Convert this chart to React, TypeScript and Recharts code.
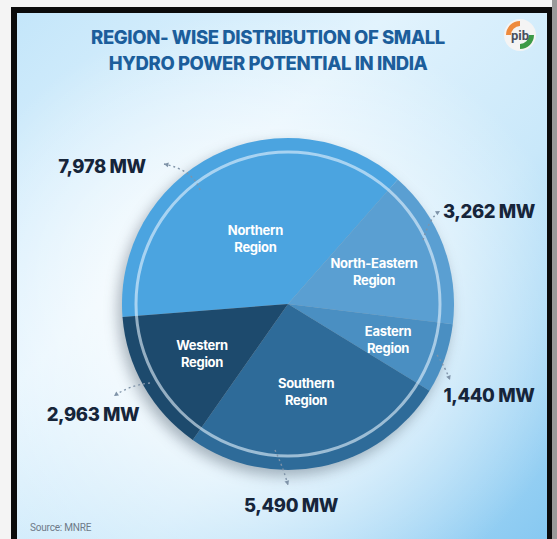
import React from 'react';
import { PieChart, Pie, Cell } from 'recharts';

const categories = ['Northern Region', 'North-Eastern Region', 'Eastern Region', 'Southern Region', 'Western Region'];
const values = [7978, 3262, 1440, 5490, 2963];
const valueLabels = ['7,978 MW', '3,262 MW', '1,440 MW', '5,490 MW', '2,963 MW'];
const colors = ['#4ba4e0', '#5a9fd2', '#4a8fc2', '#2e6b99', '#1d4a6d'];

const data = categories.map((name, i) => ({ name, value: values[i], label: valueLabels[i] }));
const ring = [{ name: 'ring', value: 1 }];

// style constants (label placement relative to pie centre)
const CX = 283;
const CY = 299;
const R = 166;
const NAME_R = [73, 92, 106, 89, 99];
const VAL_POS: [number, number][] = [[-186, -138], [201, -93], [201, 91], [3, 201], [-195, 110]];
const CONNECTORS: [number, number][][] = [
  [[-88, -114], [-95, -134], [-124, -140]],
  [[135, -64], [142, -87], [152, -93]],
  [[149, 51], [157, 63], [162, 76]],
  [[-13, 146], [-5, 163], [0, 181]],
  [[-138, 79], [-158, 81], [-174, 92]],
];

const RAD = Math.PI / 180;

function NameLabel(props: any) {
  const { cx, cy, midAngle, index } = props;
  const r = NAME_R[index];
  const x = cx + r * Math.cos(-midAngle * RAD);
  const y = cy + r * Math.sin(-midAngle * RAD);
  const name: string = categories[index];
  const cut = name.lastIndexOf(' ');
  const l1 = name.slice(0, cut);
  const l2 = name.slice(cut + 1);
  return (
    <text x={x} y={y} textAnchor="middle" fill="#ffffff" fontSize={13} fontWeight={700}
      fontFamily="Inter, 'Open Sans', sans-serif" letterSpacing={-0.3}>
      <tspan x={x} dy="-0.25em">{l1}</tspan>
      <tspan x={x} dy="1.3em">{l2}</tspan>
    </text>
  );
}

function ValueLabel(props: any) {
  const { cx, cy, index } = props;
  const [dx, dy] = VAL_POS[index];
  const pts = CONNECTORS[index].map(([px, py]) => [cx + px, cy + py]);
  const [s, c, e] = pts;
  const ang = Math.atan2(e[1] - c[1], e[0] - c[0]);
  const h = 5;
  const tri = [
    [e[0], e[1]],
    [e[0] - h * Math.cos(ang - 0.5), e[1] - h * Math.sin(ang - 0.5)],
    [e[0] - h * Math.cos(ang + 0.5), e[1] - h * Math.sin(ang + 0.5)],
  ].map((p) => p.join(',')).join(' ');
  return (
    <g>
      <path d={`M${s[0]},${s[1]} Q${c[0]},${c[1]} ${e[0]},${e[1]}`} fill="none" stroke="#7f93a8"
        strokeWidth={1.4} strokeDasharray="2 3" />
      <polygon points={tri} fill="#7f93a8" />
      <text x={cx + dx} y={cy + dy} textAnchor="middle" dominantBaseline="central" fill="#16253a"
        fontSize={18.5} fontWeight={800} fontFamily="Inter, Roboto, sans-serif" letterSpacing={-0.4}>
        {valueLabels[index]}
      </text>
    </g>
  );
}

function Logo() {
  return (
    <svg width={34} height={34} style={{ position: 'absolute', left: 503, top: 18 }}>
      <circle cx={17} cy={17} r={16} fill="#f4f4f4" />
      <path d="M3,17 A14,14 0 0 1 17,3 L17,8 A9,9 0 0 0 8,17 Z" fill="#ee8a3c" />
      <path d="M31,17 A14,14 0 0 1 17,31 L17,26 A9,9 0 0 0 26,17 Z" fill="#3d9a47" />
      <text x={17} y={22} textAnchor="middle" fontSize={13} fontWeight={700} fill="#4a4f5e"
        fontFamily="Roboto, sans-serif">pib</text>
    </svg>
  );
}

export default function App() {
  return (
    <div style={{ position: 'absolute', left: 0, top: 0, width: 557, height: 539, background: '#f4f4f4', overflow: 'hidden' }}>
      <div style={{ position: 'absolute', left: 552, top: 0, width: 5, height: 539, background: '#9a9a9a' }} />
      <div style={{ position: 'absolute', left: 11, top: 7, width: 541, height: 540, background: '#0b0b0b' }} />
      <div style={{
        position: 'absolute', left: 17, top: 13, width: 530, height: 530,
        background: 'radial-gradient(ellipse 62% 58% at 45% 58%, rgba(255,255,255,0.95) 0%, rgba(255,255,255,0.65) 45%, rgba(255,255,255,0) 100%), linear-gradient(135deg, #c4e6fa 0%, #e2f3fd 35%, #c9e8fa 62%, #86c8f1 100%)',
      }} />
      <div style={{
        position: 'absolute', left: 17, top: 24, width: 502, textAlign: 'center', color: '#1c5e9b',
        fontFamily: 'Inter, sans-serif', fontWeight: 800, fontSize: 18.5, lineHeight: '26px', letterSpacing: -0.4,
      }}>
        REGION- WISE DISTRIBUTION OF SMALL<br />HYDRO POWER POTENTIAL IN INDIA
      </div>
      <Logo />
      <div style={{ position: 'absolute', left: 0, top: 0, filter: 'drop-shadow(-4px 6px 7px rgba(30,50,70,0.35))' }}>
        <PieChart width={557} height={539}>
          <Pie data={data} dataKey="value" nameKey="name" cx={CX} cy={CY} outerRadius={R} innerRadius={0}
            startAngle={184.5} endAngle={-175.5} stroke="none" isAnimationActive={false}>
            {data.map((d, i) => <Cell key={d.name} fill={colors[i]} />)}
          </Pie>
          <Pie data={ring} dataKey="value" cx={CX} cy={CY} outerRadius={153.5} innerRadius={150.5}
            startAngle={90} endAngle={-270} fill="rgba(230,243,253,0.6)" stroke="none" isAnimationActive={false} />
        </PieChart>
      </div>
      <div style={{ position: 'absolute', left: 0, top: 0 }}>
        <PieChart width={557} height={539}>
          <Pie data={data} dataKey="value" nameKey="name" cx={CX} cy={CY} outerRadius={R} innerRadius={0}
            startAngle={184.5} endAngle={-175.5} fill="none" stroke="none" isAnimationActive={false}
            label={NameLabel} labelLine={false} />
          <Pie data={data} dataKey="value" nameKey="name" cx={CX} cy={CY} outerRadius={R} innerRadius={0}
            startAngle={184.5} endAngle={-175.5} fill="none" stroke="none" isAnimationActive={false}
            label={ValueLabel} labelLine={false} />
        </PieChart>
      </div>
      <div style={{ position: 'absolute', left: 30, top: 522, fontFamily: 'Roboto, sans-serif', fontSize: 10, color: '#6e7a88', letterSpacing: -0.2 }}>
        Source: MNRE
      </div>
    </div>
  );
}
